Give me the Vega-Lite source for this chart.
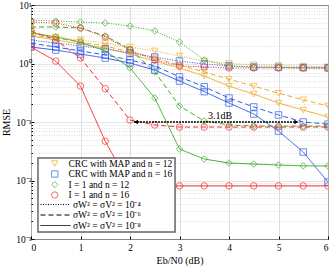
{
  "$schema": "https://vega.github.io/schema/vega-lite/v6.json",
  "width": 297,
  "height": 234,
  "autosize": {"type": "none"},
  "padding": {"left": 31, "top": 5, "right": 4, "bottom": 28},
  "background": "white",
  "config": {
    "view": {"stroke": "#000", "strokeWidth": 1},
    "font": "Liberation Serif",
    "axis": {
      "labelFont": "Liberation Serif", "titleFont": "Liberation Serif",
      "labelFontSize": 9.5, "titleFontSize": 10, "titleFontWeight": "normal",
      "labelColor": "#000", "titleColor": "#000", "domain": false,
      "tickColor": "#000", "gridColor": "#d6d6d6", "gridWidth": 0.8
    },
    "legend": {
      "labelFont": "Liberation Serif", "labelFontSize": 9.5, "labelColor": "#000",
      "padding": 0, "rowPadding": 0.5, "clipHeight": 9, "labelLimit": 220
    }
  },
  "data": {"values": [
    {"s":"crc12","n":"e4","x":0,"y":3.32},{"s":"crc12","n":"e4","x":0.5,"y":2.84},{"s":"crc12","n":"e4","x":1,"y":2.52},{"s":"crc12","n":"e4","x":1.5,"y":2.24},{"s":"crc12","n":"e4","x":2,"y":1.91},{"s":"crc12","n":"e4","x":2.5,"y":1.64},{"s":"crc12","n":"e4","x":3,"y":1.34},{"s":"crc12","n":"e4","x":3.5,"y":1.10},{"s":"crc12","n":"e4","x":4,"y":1.0},{"s":"crc12","n":"e4","x":4.5,"y":0.95},{"s":"crc12","n":"e4","x":5,"y":0.92},{"s":"crc12","n":"e4","x":5.5,"y":0.90},{"s":"crc12","n":"e4","x":6,"y":0.88},
    {"s":"crc12","n":"e6","x":0,"y":3.07},{"s":"crc12","n":"e6","x":0.5,"y":2.73},{"s":"crc12","n":"e6","x":1,"y":2.33},{"s":"crc12","n":"e6","x":1.5,"y":1.99},{"s":"crc12","n":"e6","x":2,"y":1.57},{"s":"crc12","n":"e6","x":2.5,"y":1.24},{"s":"crc12","n":"e6","x":3,"y":0.94},{"s":"crc12","n":"e6","x":3.5,"y":0.72},{"s":"crc12","n":"e6","x":4,"y":0.54},{"s":"crc12","n":"e6","x":4.5,"y":0.41},{"s":"crc12","n":"e6","x":5,"y":0.31},{"s":"crc12","n":"e6","x":5.5,"y":0.24},{"s":"crc12","n":"e6","x":6,"y":0.188},
    {"s":"crc12","n":"e8","x":0,"y":2.95},{"s":"crc12","n":"e8","x":0.5,"y":2.52},{"s":"crc12","n":"e8","x":1,"y":2.15},{"s":"crc12","n":"e8","x":1.5,"y":1.84},{"s":"crc12","n":"e8","x":2,"y":1.45},{"s":"crc12","n":"e8","x":2.5,"y":1.10},{"s":"crc12","n":"e8","x":3,"y":0.84},{"s":"crc12","n":"e8","x":3.5,"y":0.61},{"s":"crc12","n":"e8","x":4,"y":0.41},{"s":"crc12","n":"e8","x":4.5,"y":0.30},{"s":"crc12","n":"e8","x":5,"y":0.211},{"s":"crc12","n":"e8","x":5.5,"y":0.160},{"s":"crc12","n":"e8","x":6,"y":0.122},
    {"s":"crc16","n":"e4","x":0,"y":2.52},{"s":"crc16","n":"e4","x":0.5,"y":2.24},{"s":"crc16","n":"e4","x":1,"y":1.99},{"s":"crc16","n":"e4","x":1.5,"y":1.77},{"s":"crc16","n":"e4","x":2,"y":1.51},{"s":"crc16","n":"e4","x":2.5,"y":1.29},{"s":"crc16","n":"e4","x":3,"y":1.10},{"s":"crc16","n":"e4","x":3.5,"y":0.98},{"s":"crc16","n":"e4","x":4,"y":0.91},{"s":"crc16","n":"e4","x":4.5,"y":0.87},{"s":"crc16","n":"e4","x":5,"y":0.86},{"s":"crc16","n":"e4","x":5.5,"y":0.85},{"s":"crc16","n":"e4","x":6,"y":0.84},
    {"s":"crc16","n":"e6","x":0,"y":2.24},{"s":"crc16","n":"e6","x":0.5,"y":1.91},{"s":"crc16","n":"e6","x":1,"y":1.64},{"s":"crc16","n":"e6","x":1.5,"y":1.40},{"s":"crc16","n":"e6","x":2,"y":1.15},{"s":"crc16","n":"e6","x":2.5,"y":0.91},{"s":"crc16","n":"e6","x":3,"y":0.59},{"s":"crc16","n":"e6","x":3.5,"y":0.40},{"s":"crc16","n":"e6","x":4,"y":0.257},{"s":"crc16","n":"e6","x":4.5,"y":0.181},{"s":"crc16","n":"e6","x":5,"y":0.132},{"s":"crc16","n":"e6","x":5.5,"y":0.100},{"s":"crc16","n":"e6","x":6,"y":0.092},
    {"s":"crc16","n":"e8","x":0,"y":1.91},{"s":"crc16","n":"e8","x":0.5,"y":1.70},{"s":"crc16","n":"e8","x":1,"y":1.45},{"s":"crc16","n":"e8","x":1.5,"y":1.24},{"s":"crc16","n":"e8","x":2,"y":1.02},{"s":"crc16","n":"e8","x":2.5,"y":0.77},{"s":"crc16","n":"e8","x":3,"y":0.50},{"s":"crc16","n":"e8","x":3.5,"y":0.33},{"s":"crc16","n":"e8","x":4,"y":0.211},{"s":"crc16","n":"e8","x":4.5,"y":0.137},{"s":"crc16","n":"e8","x":5,"y":0.070},{"s":"crc16","n":"e8","x":5.5,"y":0.0307},{"s":"crc16","n":"e8","x":6,"y":0.0094},
    {"s":"i12","n":"e4","x":0,"y":5.54},{"s":"i12","n":"e4","x":0.5,"y":5.32},{"s":"i12","n":"e4","x":1,"y":5.11},{"s":"i12","n":"e4","x":1.5,"y":4.92},{"s":"i12","n":"e4","x":2,"y":4.37},{"s":"i12","n":"e4","x":2.5,"y":3.60},{"s":"i12","n":"e4","x":3,"y":2.33},{"s":"i12","n":"e4","x":3.5,"y":1.15},{"s":"i12","n":"e4","x":4,"y":0.91},{"s":"i12","n":"e4","x":4.5,"y":0.87},{"s":"i12","n":"e4","x":5,"y":0.85},{"s":"i12","n":"e4","x":5.5,"y":0.84},{"s":"i12","n":"e4","x":6,"y":0.84},
    {"s":"i12","n":"e6","x":0,"y":4.21},{"s":"i12","n":"e6","x":0.5,"y":4.21},{"s":"i12","n":"e6","x":1,"y":4.04},{"s":"i12","n":"e6","x":1.5,"y":2.95},{"s":"i12","n":"e6","x":2,"y":1.77},{"s":"i12","n":"e6","x":2.5,"y":0.72},{"s":"i12","n":"e6","x":3,"y":0.188},{"s":"i12","n":"e6","x":3.5,"y":0.104},{"s":"i12","n":"e6","x":4,"y":0.089},{"s":"i12","n":"e6","x":4.5,"y":0.0855},{"s":"i12","n":"e6","x":5,"y":0.085},{"s":"i12","n":"e6","x":5.5,"y":0.085},{"s":"i12","n":"e6","x":6,"y":0.085},
    {"s":"i12","n":"e8","x":0,"y":3.32},{"s":"i12","n":"e8","x":0.5,"y":2.84},{"s":"i12","n":"e8","x":1,"y":2.33},{"s":"i12","n":"e8","x":1.5,"y":1.64},{"s":"i12","n":"e8","x":2,"y":0.84},{"s":"i12","n":"e8","x":2.5,"y":0.257},{"s":"i12","n":"e8","x":3,"y":0.0345},{"s":"i12","n":"e8","x":3.5,"y":0.0233},{"s":"i12","n":"e8","x":4,"y":0.0199},{"s":"i12","n":"e8","x":4.5,"y":0.0191},{"s":"i12","n":"e8","x":5,"y":0.0184},{"s":"i12","n":"e8","x":5.5,"y":0.0178},{"s":"i12","n":"e8","x":6,"y":0.0177},
    {"s":"i16","n":"e4","x":0,"y":5.11},{"s":"i16","n":"e4","x":0.5,"y":4.92},{"s":"i16","n":"e4","x":1,"y":4.04},{"s":"i16","n":"e4","x":1.5,"y":2.84},{"s":"i16","n":"e4","x":2,"y":1.70},{"s":"i16","n":"e4","x":2.5,"y":1.15},{"s":"i16","n":"e4","x":3,"y":0.91},{"s":"i16","n":"e4","x":3.5,"y":0.87},{"s":"i16","n":"e4","x":4,"y":0.84},{"s":"i16","n":"e4","x":4.5,"y":0.84},{"s":"i16","n":"e4","x":5,"y":0.84},{"s":"i16","n":"e4","x":5.5,"y":0.84},{"s":"i16","n":"e4","x":6,"y":0.84},
    {"s":"i16","n":"e6","x":0,"y":3.60},{"s":"i16","n":"e6","x":0.5,"y":2.52},{"s":"i16","n":"e6","x":1,"y":1.24},{"s":"i16","n":"e6","x":1.5,"y":0.37},{"s":"i16","n":"e6","x":2,"y":0.108},{"s":"i16","n":"e6","x":2.5,"y":0.089},{"s":"i16","n":"e6","x":3,"y":0.082},{"s":"i16","n":"e6","x":3.5,"y":0.082},{"s":"i16","n":"e6","x":4,"y":0.082},{"s":"i16","n":"e6","x":4.5,"y":0.082},{"s":"i16","n":"e6","x":5,"y":0.082},{"s":"i16","n":"e6","x":5.5,"y":0.082},{"s":"i16","n":"e6","x":6,"y":0.082},
    {"s":"i16","n":"e8","x":0,"y":1.91},{"s":"i16","n":"e8","x":0.5,"y":1.10},{"s":"i16","n":"e8","x":1,"y":0.41},{"s":"i16","n":"e8","x":1.5,"y":0.047},{"s":"i16","n":"e8","x":2,"y":0.0081},{"s":"i16","n":"e8","x":2.5,"y":0.0081},{"s":"i16","n":"e8","x":3,"y":0.0081},{"s":"i16","n":"e8","x":3.5,"y":0.0081},{"s":"i16","n":"e8","x":4,"y":0.0081},{"s":"i16","n":"e8","x":4.5,"y":0.0081},{"s":"i16","n":"e8","x":5,"y":0.0081},{"s":"i16","n":"e8","x":5.5,"y":0.0081},{"s":"i16","n":"e8","x":6,"y":0.0081}
  ]},
  "layer": [
    {
      "mark": {"type": "line", "strokeWidth": 1, "clip": true},
      "encoding": {
        "x": {"field": "x", "type": "quantitative", "scale": {"domain": [0, 6], "nice": false},
          "axis": {"values": [0,1,2,3,4,5,6], "format": "d", "title": "Eb/N0 (dB)", "grid": true, "tickSize": -3, "labelPadding": 6, "titlePadding": 4}},
        "y": {"field": "y", "type": "quantitative", "scale": {"type": "log", "domain": [0.001, 10], "nice": false},
          "axis": {"title": "RMSE", "grid": true, "titlePadding": 4, "labelPadding": 3,
            "values": [0.001,0.002,0.003,0.004,0.005,0.006,0.007,0.008,0.009,0.01,0.02,0.03,0.04,0.05,0.06,0.07,0.08,0.09,0.1,0.2,0.3,0.4,0.5,0.6,0.7,0.8,0.9,1,2,3,4,5,6,7,8,9,10],
            "tickSize": {"condition": {"test": "abs(log(datum.value)/LN10 - round(log(datum.value)/LN10)) < 0.001", "value": -3}, "value": -1.5},
            "gridDash": {"condition": {"test": "abs(log(datum.value)/LN10 - round(log(datum.value)/LN10)) < 0.001", "value": [1, 0]}, "value": [1, 1.5]},
            "labelExpr": "abs(log(datum.value)/LN10 - round(log(datum.value)/LN10)) < 0.001 ? (round(log(datum.value)/LN10) == 1 ? '10¹' : round(log(datum.value)/LN10) == 0 ? '10⁰' : round(log(datum.value)/LN10) == -1 ? '10⁻¹' : round(log(datum.value)/LN10) == -2 ? '10⁻²' : '10⁻³') : ''"}},
        "color": {"field": "s", "type": "nominal",
          "scale": {"domain": ["crc12","crc16","i12","i16"], "range": ["#f0aa2a","#2f5bea","#3cad2c","#f52a2a"]},
          "legend": {"orient": "none", "legendX": 7, "legendY": 154, "title": null, "symbolOffset": 12, "labelOffset": 9, "symbolSize": 40, "symbolStrokeWidth": 1,
            "labelExpr": "datum.label == 'crc12' ? 'CRC with MAP and n = 12' : datum.label == 'crc16' ? 'CRC with MAP and n = 16' : datum.label == 'i12' ? 'I = 1 and n = 12' : 'I = 1 and n = 16'"}},
        "strokeDash": {"field": "n", "type": "nominal",
          "scale": {"domain": ["e4","e6","e8"], "range": [[1,1.5],[5,3],[1,0]]},
          "legend": {"orient": "none", "legendX": 7, "legendY": 195, "title": null, "symbolType": "stroke", "symbolSize": 900, "symbolOffset": 2,
            "symbolStrokeColor": "#000", "symbolStrokeWidth": 1, "labelOffset": 2,
            "labelExpr": "datum.label == 'e4' ? 'σW² = σV² = 10⁻⁴' : datum.label == 'e6' ? 'σW² = σV² = 10⁻⁶' : 'σW² = σV² = 10⁻⁸'"}},
        "detail": {"field": "n"}
      }
    },
    {
      "mark": {"type": "point", "filled": false, "strokeWidth": 1, "size": 42, "clip": true},
      "encoding": {
        "x": {"field": "x", "type": "quantitative"},
        "y": {"field": "y", "type": "quantitative"},
        "color": {"field": "s", "type": "nominal"},
        "shape": {"field": "s", "type": "nominal",
          "scale": {"domain": ["crc12","crc16","i12","i16"], "range": ["triangle-down","square","diamond","circle"]}}
      }
    },
    {
      "data": {"values": [{"x": 2.08, "x2": 5.38, "y": 0.1}]},
      "mark": {"type": "rule", "color": "#000", "strokeWidth": 1.5, "strokeDash": [2, 1]},
      "encoding": {
        "x": {"field": "x", "type": "quantitative"},
        "x2": {"field": "x2"},
        "y": {"field": "y", "type": "quantitative"}
      }
    },
    {
      "data": {"values": [{"x": 2.12, "y": 0.1}]},
      "mark": {"type": "point", "shape": "triangle-left", "filled": true, "color": "#000", "size": 20, "opacity": 1},
      "encoding": {"x": {"field": "x", "type": "quantitative"}, "y": {"field": "y", "type": "quantitative"}}
    },
    {
      "data": {"values": [{"x": 5.36, "y": 0.1}]},
      "mark": {"type": "point", "shape": "triangle-right", "filled": true, "color": "#000", "size": 20, "opacity": 1},
      "encoding": {"x": {"field": "x", "type": "quantitative"}, "y": {"field": "y", "type": "quantitative"}}
    },
    {
      "data": {"values": [{"x": 3.82, "y": 0.127, "t": "3.1dB"}]},
      "mark": {"type": "text", "font": "Liberation Serif", "fontSize": 10, "color": "#000", "baseline": "middle"},
      "encoding": {"x": {"field": "x", "type": "quantitative"}, "y": {"field": "y", "type": "quantitative"}, "text": {"field": "t"}}
    },
    {
      "data": {"values": [{"x": 0.141, "x2": 2.91, "y": 0.0243, "y2": 0.00132}]},
      "mark": {"type": "rect", "fill": "white", "stroke": "#666", "strokeWidth": 1.5},
      "encoding": {
        "x": {"field": "x", "type": "quantitative"}, "x2": {"field": "x2"},
        "y": {"field": "y", "type": "quantitative"}, "y2": {"field": "y2"}
      }
    }
  ]
}
